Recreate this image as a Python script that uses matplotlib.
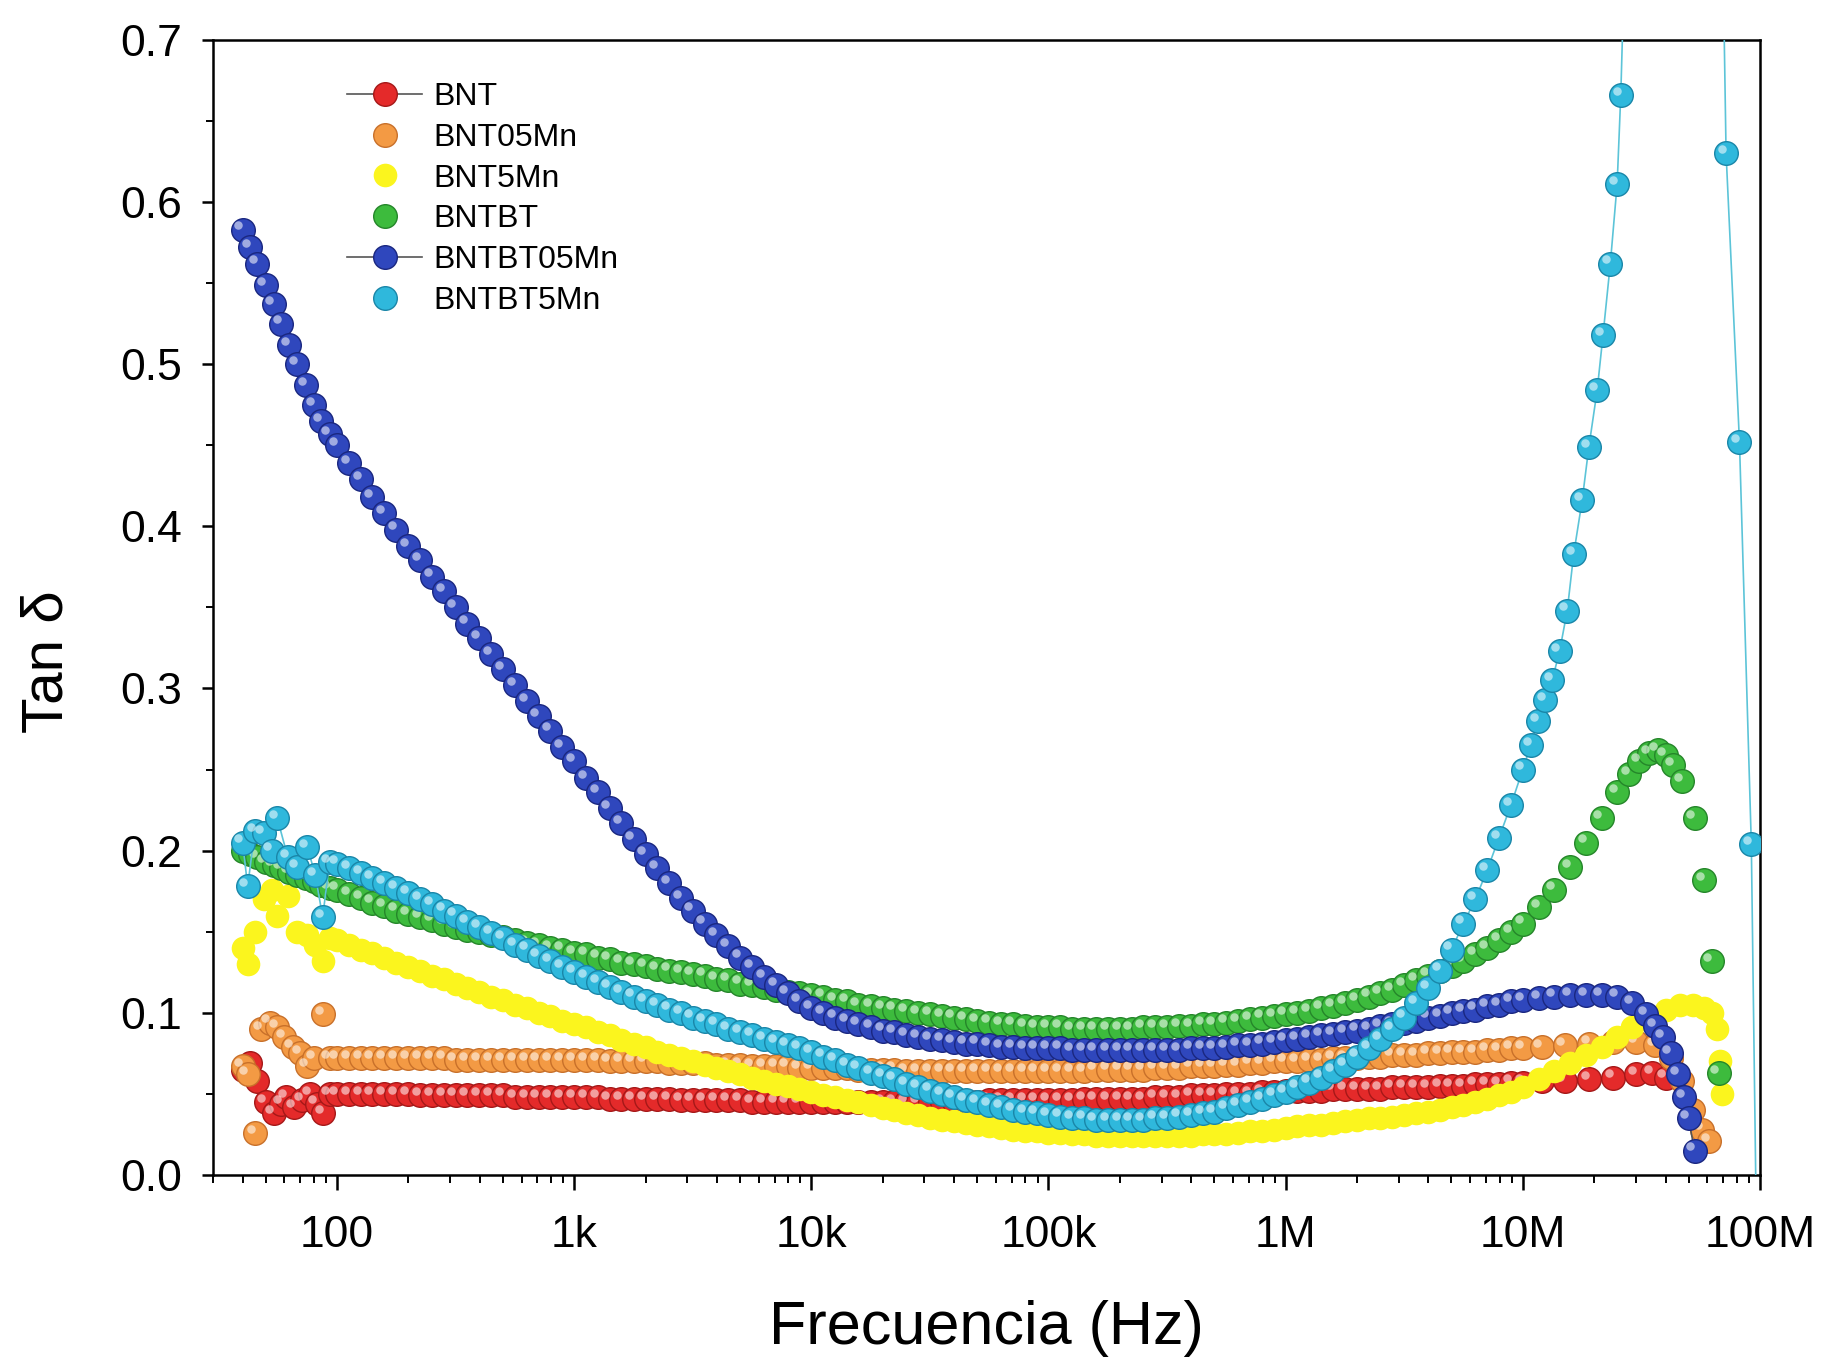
import matplotlib
matplotlib.use("Agg")
import matplotlib.pyplot as plt
from matplotlib.lines import Line2D
from matplotlib.transforms import ScaledTranslation
from matplotlib.ticker import LogLocator, MultipleLocator, NullFormatter

plt.rcParams['font.family'] = ['Liberation Sans', 'DejaVu Sans']

# Shared frequency grid (Hz), 100 Hz to 8.91 MHz
freq = [1.00e2, 1.12e2, 1.26e2, 1.41e2, 1.58e2, 1.78e2, 2.00e2, 2.24e2, 2.51e2, 2.82e2,
        3.16e2, 3.55e2, 3.98e2, 4.47e2, 5.01e2, 5.62e2, 6.31e2, 7.08e2, 7.94e2, 8.91e2,
        1.00e3, 1.12e3, 1.26e3, 1.41e3, 1.58e3, 1.78e3, 2.00e3, 2.24e3, 2.51e3, 2.82e3,
        3.16e3, 3.55e3, 3.98e3, 4.47e3, 5.01e3, 5.62e3, 6.31e3, 7.08e3, 7.94e3, 8.91e3,
        1.00e4, 1.12e4, 1.26e4, 1.41e4, 1.58e4, 1.78e4, 2.00e4, 2.24e4, 2.51e4, 2.82e4,
        3.16e4, 3.55e4, 3.98e4, 4.47e4, 5.01e4, 5.62e4, 6.31e4, 7.08e4, 7.94e4, 8.91e4,
        1.00e5, 1.12e5, 1.26e5, 1.41e5, 1.58e5, 1.78e5, 2.00e5, 2.24e5, 2.51e5, 2.82e5,
        3.16e5, 3.55e5, 3.98e5, 4.47e5, 5.01e5, 5.62e5, 6.31e5, 7.08e5, 7.94e5, 8.91e5,
        1.00e6, 1.12e6, 1.26e6, 1.41e6, 1.58e6, 1.78e6, 2.00e6, 2.24e6, 2.51e6, 2.82e6,
        3.16e6, 3.55e6, 3.98e6, 4.47e6, 5.01e6, 5.62e6, 6.31e6, 7.08e6, 7.94e6, 8.91e6]

# BNT
bnt_lo_f = [40, 43, 46, 50, 54, 58, 61, 66, 71, 77, 82, 87, 93]
bnt_lo_v = [0.065, 0.069, 0.058, 0.045, 0.038, 0.044, 0.048, 0.042, 0.046, 0.050, 0.044, 0.038, 0.050]
bnt_v = [0.050, 0.050, 0.050, 0.050, 0.050, 0.050, 0.050, 0.049, 0.049, 0.049, 0.049, 0.049, 0.049, 0.049, 0.049, 0.048, 0.048, 0.048, 0.048, 0.048,
         0.048, 0.048, 0.048, 0.047, 0.047, 0.047, 0.047, 0.047, 0.047, 0.046, 0.046, 0.046, 0.046, 0.046, 0.046, 0.045, 0.045, 0.045, 0.045, 0.045,
         0.045, 0.045, 0.045, 0.045, 0.045, 0.045, 0.045, 0.045, 0.045, 0.045, 0.045, 0.045, 0.045, 0.045, 0.045, 0.046, 0.046, 0.046, 0.046, 0.046,
         0.046, 0.046, 0.046, 0.047, 0.047, 0.047, 0.047, 0.047, 0.047, 0.048, 0.048, 0.048, 0.049, 0.049, 0.049, 0.050, 0.050, 0.050, 0.051, 0.051,
         0.052, 0.052, 0.052, 0.052, 0.053, 0.053, 0.053, 0.053, 0.053, 0.054, 0.054, 0.054, 0.054, 0.055, 0.055, 0.055, 0.056, 0.056, 0.056, 0.057]
bnt_hi_f = [1.0e7, 1.2e7, 1.5e7, 1.9e7, 2.4e7, 3.0e7, 3.5e7, 4.0e7]
bnt_hi_v = [0.057, 0.058, 0.058, 0.059, 0.060, 0.062, 0.063, 0.060]

# BNT05Mn
b05_lo_f = [40, 42, 45, 48, 52, 56, 60, 65, 70, 75, 80, 87, 93]
b05_lo_v = [0.067, 0.062, 0.026, 0.090, 0.094, 0.091, 0.085, 0.079, 0.075, 0.067, 0.072, 0.099, 0.072]
b05_v = [0.072, 0.072, 0.072, 0.072, 0.072, 0.072, 0.072, 0.072, 0.072, 0.072, 0.071, 0.071, 0.071, 0.071, 0.071, 0.071, 0.071, 0.071, 0.071, 0.071,
         0.071, 0.071, 0.071, 0.070, 0.070, 0.070, 0.070, 0.070, 0.069, 0.069, 0.069, 0.069, 0.068, 0.068, 0.068, 0.067, 0.067, 0.067, 0.067, 0.066,
         0.066, 0.066, 0.066, 0.066, 0.065, 0.065, 0.065, 0.065, 0.064, 0.064, 0.064, 0.064, 0.064, 0.064, 0.064, 0.064, 0.064, 0.064, 0.064, 0.064,
         0.064, 0.064, 0.064, 0.064, 0.065, 0.065, 0.065, 0.065, 0.065, 0.066, 0.066, 0.066, 0.067, 0.067, 0.067, 0.068, 0.068, 0.069, 0.069, 0.070,
         0.070, 0.070, 0.071, 0.071, 0.072, 0.072, 0.072, 0.073, 0.073, 0.074, 0.074, 0.074, 0.075, 0.075, 0.076, 0.076, 0.076, 0.077, 0.077, 0.078]
b05_hi_f = [1.0e7, 1.2e7, 1.5e7, 1.9e7, 2.4e7, 3.0e7, 3.6e7, 4.2e7, 4.7e7, 5.2e7, 5.7e7, 6.1e7]
b05_hi_v = [0.078, 0.079, 0.080, 0.081, 0.082, 0.082, 0.080, 0.072, 0.058, 0.040, 0.028, 0.021]

# BNT5Mn
b5_lo_f = [40, 42, 45, 49, 53, 56, 62, 68, 75, 81, 87, 93]
b5_lo_v = [0.140, 0.130, 0.150, 0.170, 0.176, 0.160, 0.172, 0.150, 0.148, 0.142, 0.132, 0.146]
b5_v = [0.145, 0.142, 0.139, 0.137, 0.134, 0.131, 0.128, 0.126, 0.123, 0.121, 0.118, 0.115, 0.113, 0.110, 0.108, 0.105, 0.103, 0.100, 0.098, 0.095,
        0.093, 0.091, 0.088, 0.086, 0.083, 0.081, 0.079, 0.076, 0.074, 0.072, 0.070, 0.068, 0.066, 0.064, 0.062, 0.060, 0.058, 0.056, 0.055, 0.053,
        0.051, 0.049, 0.048, 0.046, 0.045, 0.043, 0.041, 0.040, 0.038, 0.037, 0.035, 0.034, 0.033, 0.032, 0.031, 0.030, 0.029, 0.028, 0.027, 0.027,
        0.026, 0.026, 0.025, 0.025, 0.024, 0.024, 0.024, 0.024, 0.024, 0.024, 0.024, 0.024, 0.024, 0.025, 0.025, 0.025, 0.026, 0.027, 0.027, 0.028,
        0.029, 0.030, 0.031, 0.031, 0.032, 0.033, 0.034, 0.035, 0.035, 0.036, 0.037, 0.038, 0.039, 0.040, 0.042, 0.043, 0.045, 0.047, 0.049, 0.051]
b5_hi_f = [1.0e7, 1.17e7, 1.36e7, 1.58e7, 1.85e7, 2.15e7, 2.5e7, 2.9e7, 3.4e7, 4.0e7, 4.6e7, 5.2e7, 5.8e7,
           6.3e7, 6.6e7, 6.8e7, 6.9e7]
b5_hi_v = [0.054, 0.059, 0.064, 0.069, 0.074, 0.079, 0.085, 0.091, 0.097, 0.102, 0.105, 0.105, 0.103,
           0.100, 0.090, 0.070, 0.050]

# BNTBT
bt_lo_f = [40, 43, 46, 50, 54, 58, 63, 68, 74, 80, 86, 93]
bt_lo_v = [0.200, 0.198, 0.196, 0.193, 0.191, 0.189, 0.187, 0.185, 0.183, 0.181, 0.179, 0.177]
bt_v = [0.176, 0.173, 0.171, 0.168, 0.166, 0.163, 0.161, 0.159, 0.157, 0.155, 0.153, 0.151, 0.150, 0.148, 0.147, 0.145, 0.143, 0.142, 0.140, 0.139,
        0.137, 0.136, 0.134, 0.133, 0.131, 0.130, 0.129, 0.127, 0.126, 0.125, 0.124, 0.123, 0.121, 0.120, 0.118, 0.117, 0.116, 0.114, 0.113, 0.112,
        0.111, 0.110, 0.108, 0.107, 0.105, 0.104, 0.103, 0.102, 0.101, 0.100, 0.099, 0.098, 0.097, 0.096, 0.095, 0.094, 0.093, 0.093, 0.092, 0.091,
        0.091, 0.091, 0.090, 0.090, 0.090, 0.090, 0.090, 0.090, 0.091, 0.091, 0.091, 0.092, 0.092, 0.093, 0.093, 0.094, 0.095, 0.096, 0.097, 0.098,
        0.099, 0.100, 0.101, 0.103, 0.104, 0.106, 0.108, 0.110, 0.112, 0.114, 0.117, 0.120, 0.123, 0.126, 0.129, 0.132, 0.136, 0.140, 0.145, 0.150]
bt_hi_f = [1.0e7, 1.17e7, 1.36e7, 1.58e7, 1.85e7, 2.15e7, 2.5e7, 2.8e7, 3.1e7, 3.4e7, 3.7e7, 4.0e7, 4.3e7,
           4.7e7, 5.3e7, 5.8e7, 6.25e7, 6.7e7]
bt_hi_v = [0.155, 0.165, 0.176, 0.190, 0.205, 0.220, 0.236, 0.247, 0.255, 0.260, 0.262, 0.259, 0.253,
           0.243, 0.220, 0.182, 0.132, 0.063]

# BNTBT05Mn
bt05_lo_f = [40, 43, 46, 50, 54, 58, 63, 68, 74, 80, 86, 93]
bt05_lo_v = [0.583, 0.572, 0.562, 0.549, 0.537, 0.525, 0.512, 0.500, 0.487, 0.475, 0.465, 0.457]
bt05_v = [0.450, 0.439, 0.429, 0.418, 0.408, 0.398, 0.388, 0.379, 0.369, 0.360, 0.350, 0.340, 0.331, 0.321, 0.312, 0.302, 0.292, 0.283, 0.274, 0.264,
          0.255, 0.245, 0.236, 0.226, 0.217, 0.207, 0.198, 0.189, 0.180, 0.171, 0.163, 0.155, 0.148, 0.141, 0.134, 0.128, 0.122, 0.117, 0.112, 0.107,
          0.103, 0.100, 0.097, 0.095, 0.093, 0.091, 0.089, 0.088, 0.086, 0.085, 0.084, 0.083, 0.082, 0.081, 0.081, 0.080, 0.079, 0.079, 0.078, 0.078,
          0.078, 0.078, 0.077, 0.077, 0.077, 0.077, 0.077, 0.077, 0.077, 0.077, 0.077, 0.077, 0.078, 0.078, 0.078, 0.079, 0.080, 0.080, 0.081, 0.082,
          0.083, 0.084, 0.085, 0.086, 0.087, 0.088, 0.089, 0.090, 0.092, 0.093, 0.094, 0.095, 0.097, 0.098, 0.100, 0.101, 0.102, 0.104, 0.105, 0.107]
bt05_hi_f = [1.0e7, 1.17e7, 1.36e7, 1.58e7, 1.85e7, 2.15e7, 2.5e7, 2.9e7, 3.3e7, 3.6e7, 3.9e7, 4.2e7,
             4.5e7, 4.8e7, 5.0e7, 5.3e7]
bt05_hi_v = [0.108, 0.109, 0.110, 0.111, 0.111, 0.111, 0.110, 0.106, 0.099, 0.092, 0.085, 0.075,
             0.062, 0.048, 0.035, 0.015]

# BNTBT5Mn
bt5_lo_f = [40, 42, 45, 49, 53, 56, 62, 68, 75, 81, 87, 93]
bt5_lo_v = [0.205, 0.178, 0.212, 0.211, 0.200, 0.220, 0.196, 0.190, 0.202, 0.185, 0.159, 0.193]
bt5_v = [0.192, 0.189, 0.186, 0.183, 0.180, 0.177, 0.174, 0.170, 0.167, 0.163, 0.160, 0.156, 0.153, 0.149, 0.146, 0.142, 0.139, 0.135, 0.132, 0.128,
         0.125, 0.122, 0.119, 0.116, 0.113, 0.110, 0.107, 0.105, 0.102, 0.100, 0.097, 0.095, 0.093, 0.090, 0.088, 0.086, 0.084, 0.082, 0.080, 0.078,
         0.076, 0.073, 0.071, 0.068, 0.066, 0.063, 0.061, 0.059, 0.056, 0.054, 0.052, 0.050, 0.048, 0.046, 0.045, 0.043, 0.042, 0.040, 0.039, 0.038,
         0.037, 0.036, 0.035, 0.035, 0.034, 0.034, 0.034, 0.034, 0.034, 0.035, 0.035, 0.036, 0.037, 0.038, 0.039, 0.041, 0.043, 0.045, 0.047, 0.049,
         0.051, 0.054, 0.057, 0.060, 0.064, 0.068, 0.073, 0.078, 0.084, 0.090, 0.097, 0.106, 0.115, 0.126, 0.139, 0.155, 0.170, 0.188, 0.208, 0.228]
bt5_hi_f = [1.0e7, 1.08e7, 1.16e7, 1.24e7, 1.33e7, 1.43e7, 1.54e7, 1.64e7, 1.78e7, 1.90e7, 2.06e7, 2.18e7,
            2.34e7, 2.50e7, 2.59e7, 2.75e7, 6.9e7, 7.2e7, 8.2e7, 9.2e7, 9.7e7]
bt5_hi_v = [0.250, 0.265, 0.280, 0.293, 0.305, 0.323, 0.348, 0.383, 0.416, 0.449, 0.484, 0.518,
            0.562, 0.611, 0.666, 0.80, 0.80, 0.630, 0.452, 0.204, -0.05]

labels = ['BNT', 'BNT05Mn', 'BNT5Mn', 'BNTBT', 'BNTBT05Mn', 'BNTBT5Mn']
series = [
    (bnt_lo_f + freq + bnt_hi_f, bnt_lo_v + bnt_v + bnt_hi_v),
    (b05_lo_f + freq + b05_hi_f, b05_lo_v + b05_v + b05_hi_v),
    (b5_lo_f + freq + b5_hi_f, b5_lo_v + b5_v + b5_hi_v),
    (bt_lo_f + freq + bt_hi_f, bt_lo_v + bt_v + bt_hi_v),
    (bt05_lo_f + freq + bt05_hi_f, bt05_lo_v + bt05_v + bt05_hi_v),
    (bt5_lo_f + freq + bt5_hi_f, bt5_lo_v + bt5_v + bt5_hi_v),
]
face = ['#e42a2a', '#f39a44', '#fbf51e', '#3dbb3d', '#2f47bd', '#2fb8dc']
edge = ['#a51818', '#c8702a', 'none', '#25862a', '#1a2780', '#1a86a8']
lines = ['#555555', None, None, None, '#555555', '#5cc4d8']
shine = [True, True, False, True, True, True]

MS = 17

fig = plt.figure(figsize=(18.3, 13.61), dpi=100)
ax = fig.add_axes([0.1164, 0.1367, 0.8453, 0.834])

hl = ax.transData + ScaledTranslation(-3.0 / 72, 3.0 / 72, fig.dpi_scale_trans)
for i, (f, v) in enumerate(series):
    z = 2 + i
    ax.plot(f, v, ls='-' if lines[i] else 'none', color=lines[i] or face[i], lw=1.2,
            marker='o', ms=MS, mfc=face[i], mec=edge[i], mew=1.0, zorder=z)
    if shine[i]:
        ax.plot(f, v, ls='none', marker='o', ms=MS * 0.36, mfc='white', mec='none',
                alpha=0.55, transform=hl, zorder=z + 0.5)

ax.set_xscale('log')
ax.set_xlim(30, 1e8)
ax.set_ylim(0, 0.7)

ax.set_xticks([1e2, 1e3, 1e4, 1e5, 1e6, 1e7, 1e8])
ax.set_xticklabels(['100', '1k', '10k', '100k', '1M', '10M', '100M'])
ax.xaxis.set_minor_locator(LogLocator(base=10, subs=range(2, 10), numticks=20))
ax.xaxis.set_minor_formatter(NullFormatter())
ax.yaxis.set_minor_locator(MultipleLocator(0.05))
ax.set_yticks([0.0, 0.1, 0.2, 0.3, 0.4, 0.5, 0.6, 0.7])
ax.set_yticklabels(['0.0', '0.1', '0.2', '0.3', '0.4', '0.5', '0.6', '0.7'])

ax.tick_params(axis='both', which='both', direction='out', top=False, right=False, colors='black')
ax.tick_params(axis='x', which='major', length=11, width=1.8, labelsize=32, pad=18)
ax.tick_params(axis='x', which='minor', length=6, width=1.4)
ax.tick_params(axis='y', which='major', length=8, width=1.8, labelsize=32, pad=14)
ax.tick_params(axis='y', which='minor', length=5, width=1.4)
for s in ax.spines.values():
    s.set_linewidth(1.8)
    s.set_color('black')

ax.set_xlabel('Frecuencia (Hz)', fontsize=44)
ax.xaxis.label.set_va('center')
ax.xaxis.set_label_coords(0.5, -0.135)
ax.set_ylabel('Tan δ', fontsize=42)
ax.yaxis.label.set_va('center')
ax.yaxis.set_label_coords(-0.107, 0.452)

handles = []
for i in range(6):
    handles.append(Line2D([], [], ls='-' if i in (0, 4) else 'none', color='#555555', lw=1.2,
                          marker='o', ms=MS, mfc=face[i], mec=edge[i], mew=1.0))
ax.legend(handles, labels, loc='upper left', bbox_to_anchor=(0.0866, 0.963), frameon=False,
          fontsize=23, handlelength=2.35, handletextpad=0.34, labelspacing=0.34,
          borderpad=0, borderaxespad=0)

fig.savefig('out.png', dpi=100)
